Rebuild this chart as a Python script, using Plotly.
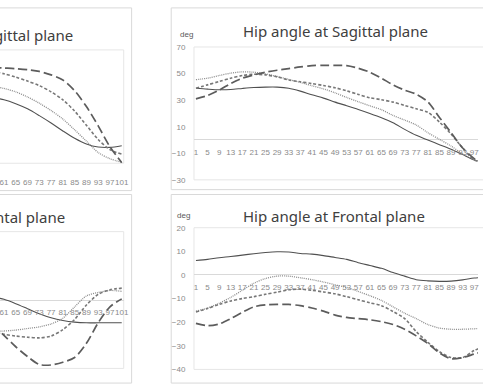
import plotly.graph_objects as go

W, H = 483, 391


def px(x):
    return x / W


def py(y):
    return 1 - y / H


# ---------------- data ----------------
frames = list(range(1, 102, 4))              # 1, 5, ..., 101
frames_knee = list(range(57, 102, 4))        # visible part of the left panels

series_names = ["Solid", "Dotted", "Short dash", "Long dash"]

# Hip angle at Sagittal plane (deg)
hip_sag_solid = [39, 38.3, 37.8, 38, 38.8, 39.5, 39.8, 39.8, 39, 36.8, 34, 31.5, 28.5,
                 25.8, 23, 20, 16.8, 13, 8, 3.5, 0, -3.5, -7, -11, -15, -17]
hip_sag_dot = [45.4, 46.5, 48.5, 50.3, 51.3, 51, 49.8, 47.8, 45.6, 43.3, 40.8, 38.5, 35.5,
               32, 28.8, 25.7, 22.8, 18.5, 15, 11.3, 5.5, 0.5, -4.5, -10.5, -15, -17]
hip_sag_sdash = [39, 41.5, 44, 46.5, 48.5, 49.5, 49, 47.5, 45.2, 43.8, 42.5, 41, 39.3,
                 37, 34.3, 31.8, 30.3, 28.5, 26, 23.5, 20.8, 13.5, 4.5, -6, -15, -17]
hip_sag_ldash = [31, 33.5, 37.5, 42.5, 46.5, 49, 51, 52.5, 53.7, 55, 56, 56.2, 56.2,
                 56, 54, 51, 46.5, 41.5, 37.5, 34.5, 28.7, 17, 5.5, -6, -14, -18]

# Hip angle at Frontal plane (deg)
hip_fro_solid = [6.1, 6.6, 7.3, 7.8, 8.4, 9, 9.5, 9.8, 9.7, 9.1, 8.8, 8.2, 7.4,
                 6.6, 5.2, 4, 2.8, 1, -0.5, -2, -2.5, -2.7, -2.6, -2.1, -1.3, -1]
hip_fro_dot = [-15.3, -14, -12, -9.5, -6.5, -3.5, -1.5, -0.5, -0.5, -1.2, -2, -3, -4.2,
               -5.3, -7, -8.8, -10.8, -13.5, -16.2, -18.5, -21, -22.5, -23, -23, -22.8, -22.5]
hip_fro_sdash = [-15.7, -14.2, -12.5, -11, -10, -9.2, -8.2, -7.3, -6.3, -6, -6.5, -7.2, -8,
                 -9.2, -10.5, -11.8, -13, -15.5, -18.5, -24, -28.5, -32.5, -35, -35, -32, -30]
hip_fro_ldash = [-20.5, -21.5, -20.8, -18.5, -15.8, -13.5, -12.7, -12.5, -12.5, -13, -14, -15.3, -17,
                 -18, -18.5, -19, -19.8, -21, -23, -25.8, -29, -33, -35.5, -35, -33.5, -32]

# Knee angle at Sagittal plane (deg), visible frames 57-101
knee_sag_solid = [58, 56, 52.5, 48, 42, 35.5, 28.5, 22, 17, 14.3, 14, 15.5]
knee_sag_dot = [68, 66, 63, 58.5, 53, 46.5, 39, 29.5, 19.5, 9.5, 4, 1]
knee_sag_sdash = [81, 79, 76, 72.5, 68.5, 63, 56, 46, 33.5, 21, 12, 8]
knee_sag_ldash = [84.5, 84, 83.5, 82.5, 81, 78, 73.5, 64, 50, 33, 14.5, 0.5]

# Knee angle at Frontal plane (deg), visible frames 57-101
knee_fro_solid = [1.5, 0.3, -1.6, -3.8, -6, -7.8, -9, -9.7, -10, -10, -10, -10]
knee_fro_dot = [-13.8, -13.6, -13.2, -12.5, -11.8, -10.5, -8, -3, 1.8, 3.3, 4.2, 3.8]
knee_fro_sdash = [-14, -15, -15.8, -16.3, -16.6, -15.8, -13, -8.5, -2.2, 2.5, 4.5, 5.2]
knee_fro_ldash = [-10.5, -15.5, -20.5, -24.8, -28.3, -28.5, -27.3, -25.2, -19, -10, -3, 0.5]

titles = ["Knee angle at Sagittal plane", "Knee angle at Frontal plane",
          "Hip angle at Sagittal plane", "Hip angle at Frontal plane"]
unit_label = "deg"
hip_sag_ticks = [-30, -10, 10, 30, 50, 70]
hip_fro_ticks = [-40, -30, -20, -10, 0, 10, 20]

# ---------------- styles ----------------
line_styles = [
    dict(color="#505050", width=1.1, dash="solid"),
    dict(color="#8f8f8f", width=1.3, dash="1px,1px"),
    dict(color="#777777", width=1.6, dash="3px,2px"),
    dict(color="#5c5c5c", width=1.7, dash="9px,4px"),
]

GRID = "#d9d9d9"
TICK = "#8a8a8a"
FONT = "Noto Sans"

fig = go.Figure()

panels = [
    ("x", "y", frames_knee, [knee_sag_solid, knee_sag_dot, knee_sag_sdash, knee_sag_ldash]),
    ("x2", "y2", frames_knee, [knee_fro_solid, knee_fro_dot, knee_fro_sdash, knee_fro_ldash]),
    ("x3", "y3", frames, [hip_sag_solid, hip_sag_dot, hip_sag_sdash, hip_sag_ldash]),
    ("x4", "y4", frames, [hip_fro_solid, hip_fro_dot, hip_fro_sdash, hip_fro_ldash]),
]

for xa, ya, xs, ys_list in panels:
    for name, ys, st in zip(series_names, ys_list, line_styles):
        fig.add_trace(go.Scatter(x=xs, y=ys, xaxis=xa, yaxis=ya, mode="lines",
                                 name=name, line=dict(shape="spline", smoothing=0.8, **st),
                                 showlegend=False, hoverinfo="skip"))

xtick_font = dict(family="Liberation Sans", size=8, color=TICK)


def xaxis_cfg(domain, rng, pos, ticklen):
    return dict(domain=domain, range=rng, anchor="free", position=pos,
                tickmode="array", tickvals=frames, ticktext=[str(v) for v in frames],
                tickangle=0, ticks="outside", ticklen=ticklen, tickcolor="rgba(0,0,0,0)",
                ticklabeloverflow="allow",
                tickfont=xtick_font, showgrid=False, zeroline=False, showline=False)


left_dom = [0, px(125)]
right_dom = [px(196), 1]
left_rng = [59.65, 101.67]
right_rng = [0.32, 98.3]

fig.update_layout(
    width=W, height=H, margin=dict(l=0, r=0, t=0, b=0),
    paper_bgcolor="white", plot_bgcolor="white", showlegend=False,
    xaxis=xaxis_cfg(left_dom, left_rng, py(163), 11),
    yaxis=dict(domain=[py(163), py(47)], range=[0, 100], anchor="x",
               showticklabels=False, showgrid=False, zeroline=False, ticks=""),
    xaxis2=xaxis_cfg(left_dom, left_rng, py(303), 4),
    yaxis2=dict(domain=[py(373), py(233)], range=[-30, 30], anchor="x2",
                showticklabels=False, showgrid=False, zeroline=True,
                zerolinecolor=GRID, zerolinewidth=1, ticks=""),
    xaxis3=xaxis_cfg(right_dom, right_rng, py(139.3), 4),
    yaxis3=dict(domain=[py(180), py(44)], range=[-30, 70], anchor="x3",
                tickvals=hip_sag_ticks, tickfont=xtick_font, ticks="outside", ticklen=6,
                tickcolor="rgba(0,0,0,0)", showgrid=False, zeroline=True,
                zerolinecolor=GRID, zerolinewidth=1),
    xaxis4=xaxis_cfg(right_dom, right_rng, py(278), 4),
    yaxis4=dict(domain=[py(374), py(229)], range=[-40, 20], anchor="x4",
                tickvals=hip_fro_ticks, tickfont=xtick_font, ticks="outside", ticklen=6,
                tickcolor="rgba(0,0,0,0)", showgrid=False, zeroline=True,
                zerolinecolor=GRID, zerolinewidth=1),
)

shapes = []
# chart-area boxes
for x0, x1, y0, y1 in [(-199, 133, 4, 191), (-199, 133, 195, 388),
                       (173, 505, 4, 190), (173, 505, 195, 388)]:
    shapes.append(dict(type="rect", xref="paper", yref="paper",
                       x0=px(x0), x1=px(x1), y0=py(y1), y1=py(y0),
                       line=dict(color=GRID, width=1), layer="below"))
# plot-area borders
for x0, x1, y0, y1 in [(-180, 125, 47, 163), (-180, 125, 233, 373),
                       (196, 495, 44, 180), (196, 495, 229, 374)]:
    shapes.append(dict(type="rect", xref="paper", yref="paper",
                       x0=px(x0), x1=px(x1), y0=py(y1), y1=py(y0),
                       line=dict(color="#e6e6e6", width=1), layer="below"))
fig.update_layout(shapes=shapes)

title_font = dict(family=FONT, size=15, color="#404040")
annotations = [
    dict(text=titles[0], x=px(76), y=py(32), xanchor="right", yanchor="middle"),
    dict(text=titles[1], x=px(68), y=py(218), xanchor="right", yanchor="middle"),
    dict(text=titles[2], x=px(339), y=py(28), xanchor="center", yanchor="middle"),
    dict(text=titles[3], x=px(337), y=py(217), xanchor="center", yanchor="middle"),
]
for a in annotations:
    a.update(xref="paper", yref="paper", showarrow=False, font=title_font)
for x, y in [(188, 31), (185, 216)]:
    annotations.append(dict(text=unit_label, x=px(x), y=py(y), xref="paper", yref="paper",
                            showarrow=False, xanchor="center", yanchor="middle",
                            font=dict(family="Liberation Sans", size=8, color="#595959")))
fig.update_layout(annotations=annotations)

fig.write_html("out.html")
